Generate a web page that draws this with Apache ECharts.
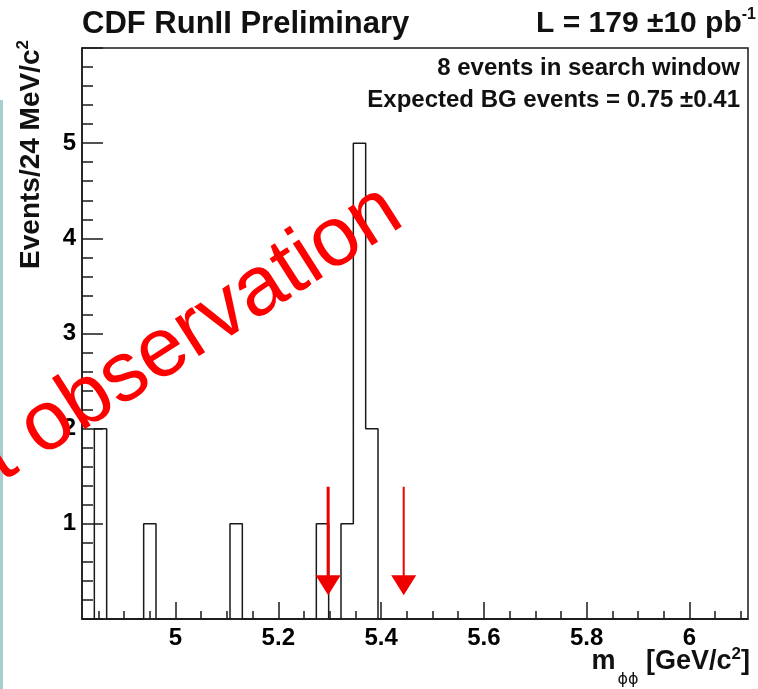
<!DOCTYPE html>
<html><head><meta charset="utf-8">
<script src="https://cdn.jsdelivr.net/npm/echarts@6/dist/echarts.min.js"></script>
<style>html,body{margin:0;padding:0;background:#fff}#c{width:758px;height:689px}</style>
</head><body><div id="c"></div>
<script>
// ---- data ----
const binStart = 4.818;          // GeV/c^2, lower edge of histogram
const binWidth = 0.024;          // 24 MeV/c^2 bins
const counts = [0,2,0,0,0,1,0,0,0,0,0,0,1,0,0,0,0,0,0,1,0,1,5,2,
                0,0,0,0,0,0,0,0,0,0,0,0,0,0,0,0,0,0,0,0,0,0,0,0,0,0,0,0,0,0];
const xRange = [4.818, 6.114];
const yRange = [0, 6];
const xMajorTicks = [5, 5.2, 5.4, 5.6, 5.8, 6];
const xMinorTicks = [4.85,4.9,4.95,5.05,5.1,5.15,5.25,5.3,5.35,5.45,5.5,5.55,5.65,5.7,5.75,5.85,5.9,5.95,6.05,6.1];
const windowEdges = [5.297, 5.444];   // search window (red arrows)
const arrowStem = [1.39, 0.46];       // stem from / to (events)
const arrowTip = 0.25;

// histogram outline points: left edge of every bin + right edge of last
const stepData = counts.map((c, i) => [+(binStart + i * binWidth).toFixed(4), c]);
stepData.push([+(binStart + counts.length * binWidth).toFixed(4), counts[counts.length - 1]]);

const FONT = "'Liberation Sans', Arial, Helvetica, sans-serif";
const INK = '#1a1a1a';
const RED = '#ee0000';

const chart = echarts.init(document.getElementById('c'), null, {renderer: 'canvas'});
chart.setOption({
  animation: false,
  backgroundColor: '#ffffff',
  grid: {left: 82, right: 10, top: 48, bottom: 70, show: true, borderColor: INK, borderWidth: 1.5,
         backgroundColor: 'transparent', outerBoundsMode: 'none'},
  xAxis: [{
    type: 'value', min: xRange[0], max: xRange[1], position: 'bottom',
    axisLine: {show: true, onZero: false, lineStyle: {color: INK, width: 1.5}},
    axisTick: {show: true, inside: true, length: 17, customValues: xMajorTicks, lineStyle: {color: INK, width: 1.5}},
    axisLabel: {show: true, customValues: xMajorTicks, margin: 7, color: '#000', fontFamily: FONT,
                fontWeight: 'bold', fontSize: 24},
    splitLine: {show: false}
  }, {
    type: 'value', min: xRange[0], max: xRange[1], position: 'bottom',
    axisLine: {show: false},
    axisTick: {show: true, inside: true, length: 8, customValues: xMinorTicks, lineStyle: {color: INK, width: 1.5}},
    axisLabel: {show: false},
    splitLine: {show: false}
  }],
  yAxis: {
    type: 'value', min: yRange[0], max: yRange[1], interval: 1,
    axisLine: {show: true, onZero: false, lineStyle: {color: INK, width: 1.5}},
    axisTick: {show: true, inside: true, length: 21, lineStyle: {color: INK, width: 1.5}},
    minorTick: {show: true, splitNumber: 5, length: 11, lineStyle: {color: INK, width: 1.5}},
    axisLabel: {show: true, showMinLabel: false, showMaxLabel: false, margin: 6, color: '#000',
                fontFamily: FONT, fontWeight: 'bold', fontSize: 24},
    splitLine: {show: false}, minorSplitLine: {show: false}
  },
  series: [{
    type: 'line', step: 'end', data: stepData, symbol: 'none', xAxisIndex: 0,
    lineStyle: {color: INK, width: 1.5}, z: 3
  }, {
    type: 'custom', xAxisIndex: 0, z: 10,
    data: windowEdges.map(x => [x, arrowStem[0]]),
    encode: {x: 0, y: 1},
    renderItem: function (params, api) {
      const x = api.value(0);
      const p0 = api.coord([x, arrowStem[0]]);
      const p1 = api.coord([x, arrowStem[1]]);
      const pt = api.coord([x, arrowTip]);
      const hw = 12.5;
      const sw = params.dataIndex === 0 ? 3 : 2;
      return {type: 'group', children: [
        {type: 'line', shape: {x1: p0[0], y1: p0[1], x2: p1[0], y2: p1[1] + 2}, style: {stroke: RED, lineWidth: sw}},
        {type: 'polygon', shape: {points: [[p1[0] - hw, p1[1]], [p1[0] + hw, p1[1]], [pt[0], pt[1]]]}, style: {fill: RED}}
      ]};
    }
  }],
  graphic: [
    {type: 'rect', shape: {x: 0, y: 100, width: 3, height: 589}, style: {fill: '#a8cfd0'}, z: 1},
    {type: 'text', x: 82, y: 24, z: 5, style: {text: 'CDF RunII Preliminary', fill: '#111', font: 'bold 31px ' + FONT,
      textAlign: 'left', textVerticalAlign: 'middle'}},
    {type: 'text', x: 756, y: 24, z: 5, style: {text: '{a|L = 179 \u00b110 pb}{s|-1}', textAlign: 'right', textVerticalAlign: 'middle',
      rich: {a: {fontFamily: FONT, fontWeight: 'bold', fontSize: 30, fill: '#111', lineHeight: 34},
             s: {fontFamily: FONT, fontWeight: 'bold', fontSize: 16, fill: '#111', verticalAlign: 'top', lineHeight: 34}}}},
    {type: 'text', x: 740, y: 68, z: 5, style: {text: '8 events in search window', fill: '#111', font: 'bold 24px ' + FONT,
      textAlign: 'right', textVerticalAlign: 'middle'}},
    {type: 'text', x: 740, y: 100, z: 5, style: {text: 'Expected BG events = 0.75 \u00b10.41', fill: '#111', font: 'bold 24px ' + FONT,
      textAlign: 'right', textVerticalAlign: 'middle'}},
    {type: 'text', x: 31, y: 40, rotation: Math.PI / 2, z: 5, style: {text: '{a|Events/24 MeV/c}{s|2}', textAlign: 'right', textVerticalAlign: 'middle',
      rich: {a: {fontFamily: FONT, fontWeight: 'bold', fontSize: 28, fill: '#111', lineHeight: 32},
             s: {fontFamily: FONT, fontWeight: 'bold', fontSize: 17, fill: '#111', verticalAlign: 'top', lineHeight: 32}}}},
    {type: 'text', x: 750, y: 662, z: 5, style: {text: '{a|m}{b|\u03d5\u03d5}{a| [GeV/c}{s|2}{a|]}', textAlign: 'right', textVerticalAlign: 'middle',
      rich: {a: {fontFamily: FONT, fontWeight: 'bold', fontSize: 27, fill: '#111', lineHeight: 32},
             b: {fontFamily: "'DejaVu Sans', " + FONT, fontSize: 16, fill: '#111', verticalAlign: 'bottom', lineHeight: 32, padding: [0, 0, -10, 2]},
             s: {fontFamily: FONT, fontWeight: 'bold', fontSize: 17, fill: '#111', verticalAlign: 'top', lineHeight: 32}}}},
    {type: 'text', x: 394, y: 204, rotation: 32.6 * Math.PI / 180, z: 100, style: {text: 'first observation', fill: '#ff0000',
      font: '84px ' + FONT, textAlign: 'right', textVerticalAlign: 'middle'}}
  ]
});
</script>
</body></html>
